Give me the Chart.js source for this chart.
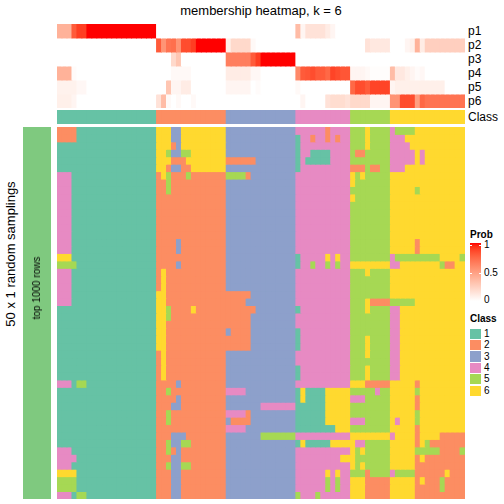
<!DOCTYPE html>
<html><head><meta charset="utf-8">
<script src="https://cdn.jsdelivr.net/npm/chart.js@4.4.1/dist/chart.umd.min.js"></script>
<style>
html,body{margin:0;padding:0;background:#fff;}
body{width:504px;height:504px;position:relative;overflow:hidden;font-family:"Liberation Sans",Arial,Helvetica,sans-serif;color:#000;}
canvas{position:absolute;display:block;}
.t{position:absolute;white-space:nowrap;line-height:1;}
</style></head><body>
<div class="t" style="left:57px;width:408px;top:4px;text-align:center;font-size:13px;">membership heatmap, k = 6</div>
<canvas id="probChart" width="408" height="84" style="left:57px;top:24px"></canvas>
<canvas id="classChart" width="408" height="14" style="left:57px;top:110px"></canvas>
<canvas id="sideChart" width="28" height="372" style="left:23px;top:127px"></canvas>
<canvas id="mainChart" width="408" height="372" style="left:57px;top:127px"></canvas>
<div id="rowlabels"></div>
<div class="t" style="left:10px;top:254px;font-size:13px;transform:translate(-50%,-50%) rotate(-90deg);">50 x 1 random samplings</div>
<div class="t" style="left:37px;top:288px;font-size:10px;transform:translate(-50%,-50%) rotate(-90deg);">top 1000 rows</div>
<div id="legend"></div>
<script>
// ---------------- data ----------------
const rowLabels = ['p1','p2','p3','p4','p5','p6'];
const classLabels = ['1','2','3','4','5','6'];
const classColors = ['#66C2A5','#FC8D62','#8DA0CB','#E78AC3','#A6D854','#FFD92F'];
const annotColor = '#7FC97F';
const probTicks = ['1','0.5','0'];
const sideLabel = 'top 1000 rows';

// class of each of the 82 samples (columns)
const sampleClass = "11111111111111111111|22222222222222|33333333333333|44444444444|55555555|666666666666666";

const p1 = [0.4,0.4,0.4,0.8,0.9,0.9,1,1,1,1,1,1,1,1,1,1,1,1,1,1,
 0,0,0,0,0,0,0,0,0,0,0,0,0,0,
 0,0,0,0,0,0,0,0,0,0,0,0,0,0,
 0.35,0.05,0.15,0.15,0.15,0.15,0.1,0.05,0,0,0,
 0,0,0,0,0,0,0,0,
 0,0,0,0,0,0,0,0,0,0,0,0,0,0,0];
const p2 = [0,0,0,0,0,0,0,0,0,0,0,0,0,0,0,0,0,0,0,0,
 0.8,0.55,0.7,0.72,0.55,0.85,0.85,0.9,1,1,1,1,1,1,
 0.08,0.2,0.2,0.2,0.2,0.03,0,0,0,0,0,0,0,0,
 0,0,0,0,0,0,0,0,0,0,0,
 0,0,0,0.15,0.12,0.12,0.12,0.12,
 0,0,0,0.05,0.08,0.4,0.1,0.25,0.25,0.25,0.25,0.25,0.25,0.25,0.25];
const p3 = [0,0,0,0,0,0,0,0,0,0,0,0,0,0,0,0,0,0,0,0,
 0,0,0,0.2,0.3,0,0,0,0,0,0,0,0,0,
 0.65,0.65,0.65,0.65,0.65,0.8,0.9,1,1,1,1,1,1,1,
 0,0,0,0,0,0,0,0,0,0,0,
 0,0,0,0,0,0,0,0,
 0,0,0,0,0,0,0,0,0,0,0,0,0,0,0];
const p4 = [0.4,0.4,0.4,0.02,0,0,0,0,0,0,0,0,0,0,0,0,0,0,0,0,
 0,0,0,0.03,0.03,0.03,0.03,0,0,0,0,0,0,0,
 0.1,0.1,0.1,0.1,0.1,0.04,0.04,0,0,0,0,0,0,0,
 0.6,0.8,0.82,0.85,0.8,0.8,0.75,0.88,0.85,0.82,0.82,
 0.05,0.05,0.05,0.03,0.01,0.01,0.01,0.01,
 0.35,0.12,0.12,0.08,0.05,0.02,0.04,0,0,0,0,0,0,0,0];
const p5 = [0.07,0.07,0.07,0.07,0.04,0.04,0,0,0,0,0,0,0,0,0,0,0,0,0,0,
 0,0,0.3,0.05,0.05,0.1,0.1,0,0,0,0,0,0,0,
 0.05,0.05,0.05,0.05,0.05,0,0.02,0,0,0,0,0,0,0,
 0.03,0,0,0,0,0,0,0,0,0,0,
 0.75,0.85,0.85,0.8,0.88,0.88,0.88,0.88,
 0.05,0.08,0.08,0.08,0.08,0.08,0.08,0.08,0.08,0.08,0.08,0,0,0,0];
const p6 = [0.08,0.08,0.08,0.05,0,0,0,0,0,0,0,0,0,0,0,0,0,0,0,0,
 0.15,0.35,0.03,0,0.03,0,0,0.03,0,0,0,0,0,0,
 0,0,0,0,0,0,0,0,0,0,0,0,0,0,
 0,0.05,0,0,0,0,0.15,0.18,0.18,0.18,0.15,
 0.2,0.2,0.2,0.2,0.05,0.05,0.05,0.05,
 0.55,0.55,0.85,0.85,0.85,0.5,0.75,0.7,0.7,0.7,0.7,0.7,0.7,0.7,0.7];

// 50 random samplings: class assigned to each column (rows top to bottom)
const samplings = [
"22221111111111111111|66633666666666|33333333333333|44444424444|55565555|455556666666666",
"22221111111111111111|66633666666666|33333333333333|14424424244|55565555|444666666666666",
"11111111111111111111|66623666666666|33333333333333|14444444444|55565555|444466666666666",
"11111111111111111111|66533556666666|33333333333333|14411114444|52255555|444446466666666",
"11111111111111111111|66622266666666|22222233333333|14111114444|55555555|444446466666666",
"11111111111111111111|66233226666666|33333333333333|14444444444|22252255|444666666666666",
"44411111111111111111|26522252222222|55552333333333|44444444444|65655555|666666666666666",
"44411111111111111111|22522222222222|33333333333333|44444444444|65555555|666666666666666",
"44411111111111111111|22522222222222|33333333333333|44444444444|55555555|666665666666666",
"44411111111111111111|22222222222222|33333333333333|44444444444|65555555|666666666666666",
"44411111111111111111|22222222222222|33333333333333|44444444444|55555555|666666666666666",
"44411111111111111111|22222222222222|33333333333333|44444444444|55555555|666666666666666",
"44411111111111111111|22222222222222|33333333333333|44444444444|55555555|666666666666666",
"44411111111111111111|22222222222222|33333333333333|44444444444|55555555|666666666666666",
"44411111111111111111|22222222222222|33333333333333|44444444444|55555555|666666666666666",
"44411111111111111111|22223222222222|33333333333333|44444444444|55555555|666662666666666",
"44411111111111111111|22223222222222|33333333333333|44444444444|55555555|666662666666666",
"66611111111111111111|22222222222222|33333333333333|14444464644|55555555|455555555566665",
"55551111111111111111|22223222222222|33333333333333|14454454544|66666666|446666666652266",
"44411111111111111111|26222222222222|33333333333333|44444444444|55565555|666666666666666",
"44411111111111111111|26222222222222|33333333333333|44444444444|55555555|666666666666666",
"44411111111111111111|26222222222222|33333333333333|44444444444|55555555|666666666666666",
"44411111111111111111|66222222222222|22222333333333|44444444444|55555555|666666666666666",
"44411111111111111111|66222222222222|22223333333333|44444444444|55562222|555556666666666",
"11111111111111111111|66522226222222|22222233333333|14444444444|55565555|446666666666666",
"11111111111111111111|66522222222222|22222333333333|44444444444|55555555|446666666666666",
"11111111111111111111|66222222222222|22222333333333|44444444444|55555555|446666666666666",
"11111111111111111111|66222222222222|32222333333333|14444444444|55555555|446666666666666",
"11111111111111111111|66222222222222|22222333333333|14444444444|55565555|446666666666666",
"11111111111111111111|66222222222222|22222333333333|14444444444|55565555|446666666666666",
"11111111111111111111|26222222222222|33333333333333|44444444444|55565555|446666666666666",
"11111111111111111111|26222222222222|33333333333333|44444444444|55555555|446666666666666",
"11111111111111111111|26222222222222|33333333333333|14444444444|55565555|446666666666666",
"11111111111111111111|26222222222222|33333333333333|14444444444|55565555|446666666666666",
"44415511111111111111|22223222222222|33333333333333|44444444444|66622222|666662666666666",
"11111111111111111111|22522222222222|44443333333333|16111166666|55555455|666665666666666",
"11111111111111111111|22223222222222|33333333333333|16111166666|44455555|666662666666666",
"11111111111111111111|22233222222222|33333334444444|11111166666|55555555|666662666666666",
"11111111111111111111|22522222222222|44442333333333|11111166666|55555555|666665666666666",
"11111111111111111111|22522222222222|32222333333333|11111166666|44455555|646665666666666",
"11111111111111111111|22222222222222|44443333333333|11111111666|55555555|666662666666666",
"11111111111111111111|22233322222222|33333335555555|44444444444|66666666|466662666622222",
"11111111111111111111|22533552222222|33333333333333|16111116666|64455555|666662652222222",
"44411111111111111111|22523222222222|33333333333333|44444444444|65655555|666665555522225",
"44441111111111111111|22233222222222|33333333333333|44444444466|65555555|666662622222222",
"44411111111111111111|22533552222222|33333333333333|44444444444|65655555|666662222222222",
"66661111111111111111|22233222222222|33333333333333|44444464644|55525555|455552222226222",
"55551111111111111111|22233222222222|33333333333333|44444454544|66622222|666662622252222",
"55551111111111111111|22233222222222|33333333333333|44444454544|66622222|666662222252222",
"44415511111111111111|22233222222222|33333333333333|54445444444|66622222|666662222222222"
];

// ---------------- colour helpers (white -> red in LAB) ----------------
function toLin(c){c/=255;return c<=0.04045?c/12.92:Math.pow((c+0.055)/1.055,2.4);}
function fromLin(c){c=c<=0.0031308?12.92*c:1.055*Math.pow(c,1/2.4)-0.055;return Math.round(Math.max(0,Math.min(1,c))*255);}
function rgb2lab(r,g,b){
  const R=toLin(r),G=toLin(g),B=toLin(b);
  let X=(0.4124*R+0.3576*G+0.1805*B)/0.95047,Y=0.2126*R+0.7152*G+0.0722*B,Z=(0.0193*R+0.1192*G+0.9505*B)/1.08883;
  const f=t=>t>0.008856?Math.cbrt(t):7.787*t+16/116;
  const fx=f(X),fy=f(Y),fz=f(Z);
  return [116*fy-16,500*(fx-fy),200*(fy-fz)];
}
function lab2rgb(L,a,b){
  const fy=(L+16)/116,fx=fy+a/500,fz=fy-b/200;
  const fi=t=>t>0.206893?t*t*t:(t-16/116)/7.787;
  const X=fi(fx)*0.95047,Y=fi(fy),Z=fi(fz)*1.08883;
  const R=3.2406*X-1.5372*Y-0.4986*Z,G=-0.9689*X+1.8758*Y+0.0415*Z,B=0.0557*X-0.2040*Y+1.0570*Z;
  return 'rgb('+fromLin(R)+','+fromLin(G)+','+fromLin(B)+')';
}
const LW=rgb2lab(255,255,255),LR=rgb2lab(255,0,0);
function probColor(v){return lab2rgb(LW[0]+(LR[0]-LW[0])*v,LW[1]+(LR[1]-LW[1])*v,LW[2]+(LR[2]-LW[2])*v);}

// ---------------- chart builder ----------------
function heat(id,colorGrid){
  const labels=colorGrid[0].map((_,i)=>String(i+1));
  return new Chart(document.getElementById(id),{
    type:'bar',
    data:{labels:labels,datasets:colorGrid.map(row=>({
      data:row.map(()=>1),backgroundColor:row,borderWidth:0,
      barPercentage:1,categoryPercentage:1,inflateAmount:0.45}))},
    options:{responsive:false,animation:false,events:[],layout:{padding:0},
      plugins:{legend:{display:false},tooltip:{enabled:false}},
      scales:{x:{display:false,stacked:true,offset:true},
              y:{display:false,stacked:true,reverse:true,min:0,max:colorGrid.length}}}
  });
}
const clean=s=>s.replace(/\|/g,'').split('').map(Number);
const probs=[p1,p2,p3,p4,p5,p6];
heat('probChart',probs.map(r=>r.map(probColor)));
heat('classChart',[clean(sampleClass).map(k=>classColors[k-1])]);
heat('mainChart',samplings.map(s=>clean(s).map(k=>classColors[k-1])));
heat('sideChart',[[annotColor]]);

// ---------------- labels & legend ----------------
const rl=document.getElementById('rowlabels');
rowLabels.concat(['Class']).forEach((t,i)=>{
  const d=document.createElement('div');d.className='t';d.textContent=t;
  const cy=i<6?24+14*i+7:117;
  d.style.cssText='left:468px;top:'+(cy-6)+'px;font-size:12px;';
  rl.appendChild(d);
});
const lg=document.getElementById('legend');
function add(html){lg.insertAdjacentHTML('beforeend',html);}
add('<div class="t" style="left:470px;top:230px;font-size:10px;font-weight:bold;">Prob</div>');
let stops=[];for(let i=0;i<=20;i++){stops.push(probColor(i/20)+' '+(i*5)+'%');}
add('<div style="position:absolute;left:470px;top:243px;width:11px;height:58px;background:linear-gradient(to top,'+stops.join(',')+');"></div>');
[[245],[273]].forEach(([y])=>{
  add('<div style="position:absolute;left:470px;top:'+y+'px;width:2px;height:1px;background:#fff"></div>');
  add('<div style="position:absolute;left:479px;top:'+y+'px;width:2px;height:1px;background:#fff"></div>');
});
[[probTicks[0],245],[probTicks[1],273],[probTicks[2],300]].forEach(([t,y])=>add('<div class="t" style="left:484px;top:'+(y-5)+'px;font-size:10px;">'+t+'</div>'));
add('<div class="t" style="left:470px;top:314px;font-size:10px;font-weight:bold;">Class</div>');
classLabels.forEach((t,i)=>{
  const y=328+i*11.4;
  add('<div style="position:absolute;left:470px;top:'+(y+0.5)+'px;width:11px;height:10.4px;background:'+classColors[i]+'"></div>');
  add('<div class="t" style="left:484px;top:'+(y+0.7)+'px;font-size:10px;">'+t+'</div>');
});
</script>
</body></html>
